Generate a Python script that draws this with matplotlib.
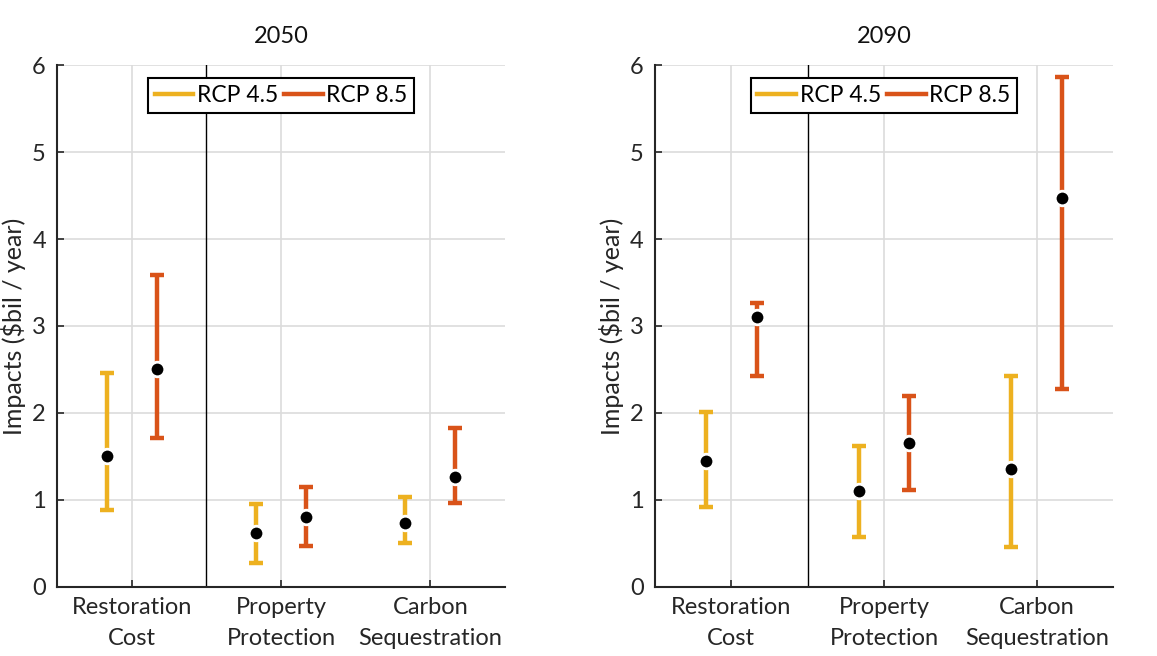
import matplotlib.pyplot as plt
import numpy as np
from matplotlib.lines import Line2D

plt.rcParams['font.family'] = ['Lato', 'DejaVu Sans']

categories = ['Restoration\nCost', 'Property\nProtection', 'Carbon\nSequestration']
years = ['2050', '2090']

# mean, lower and upper bound per category, one list per year
rcp45_mean = [[1.51, 0.62, 0.74], [1.45, 1.10, 1.36]]
rcp45_low = [[0.88, 0.28, 0.51], [0.92, 0.58, 0.46]]
rcp45_high = [[2.46, 0.95, 1.04], [2.01, 1.62, 2.42]]

rcp85_mean = [[2.51, 0.80, 1.26], [3.10, 1.66, 4.47]]
rcp85_low = [[1.71, 0.47, 0.97], [2.42, 1.12, 2.28]]
rcp85_high = [[3.59, 1.15, 1.83], [3.27, 2.19, 5.86]]

yellow = '#EDB120'
red = '#D95319'

fig = plt.figure(figsize=(11.57, 6.56), dpi=100)
axes = [fig.add_axes([0.0493, 0.1052, 0.3872, 0.7957]),
        fig.add_axes([0.5661, 0.1052, 0.3959, 0.7957])]

x = np.arange(1, len(categories) + 1)
off = 1 / 6

for i, ax in enumerate(axes):
    ax.set_axisbelow(True)
    ax.grid(True, color='#dcdcdc', lw=1.2)
    for mean, low, high, col, dx in [
            (rcp45_mean[i], rcp45_low[i], rcp45_high[i], yellow, -off),
            (rcp85_mean[i], rcp85_low[i], rcp85_high[i], red, off)]:
        mean = np.array(mean)
        err = [mean - np.array(low), np.array(high) - mean]
        ax.errorbar(x + dx, mean, yerr=err, fmt='none', ecolor=col,
                    elinewidth=3.2, capsize=5, capthick=3.2, zorder=2)
        ax.plot(x + dx, mean, 'o', color='black', ms=10.5, mec='white',
                mew=2, zorder=3)
    ax.axvline(1.5, color='black', lw=1.0, zorder=1)
    ax.set_xlim(0.5, 3.5)
    ax.set_ylim(0, 6)
    ax.set_xticks(x)
    ax.set_xticklabels(categories, fontsize=17, linespacing=1.6)
    ax.set_yticks(range(7))
    ax.tick_params(axis='both', direction='in', length=5, width=1.2,
                   labelsize=17, color='#262626', labelcolor='#262626')
    ax.tick_params(axis='y', pad=8)
    ax.tick_params(axis='x', pad=7)
    for s in ['top', 'right']:
        ax.spines[s].set_visible(False)
    for s in ['left', 'bottom']:
        ax.spines[s].set_linewidth(1.5)
        ax.spines[s].set_color('#262626')
    ax.set_ylabel('Impacts ($bil / year)', fontsize=18, color='#262626', labelpad=4)
    ax.set_title(years[i], fontsize=17, pad=16, color='#111111')

    proxies = [Line2D([], [], color=yellow, lw=3.2), Line2D([], [], color=red, lw=3.2)]
    leg = ax.legend(proxies, ['RCP 4.5', 'RCP 8.5'], loc='upper center',
                    bbox_to_anchor=(0.5, 0.975), ncol=2, fontsize=16.5,
                    frameon=True, fancybox=False, edgecolor='black',
                    handlelength=1.7, handletextpad=0.15, columnspacing=0.25,
                    borderpad=0.3, borderaxespad=0)
    leg.get_frame().set_linewidth(1.5)
    leg.get_frame().set_alpha(1)

fig.savefig('out.png', dpi=100)
